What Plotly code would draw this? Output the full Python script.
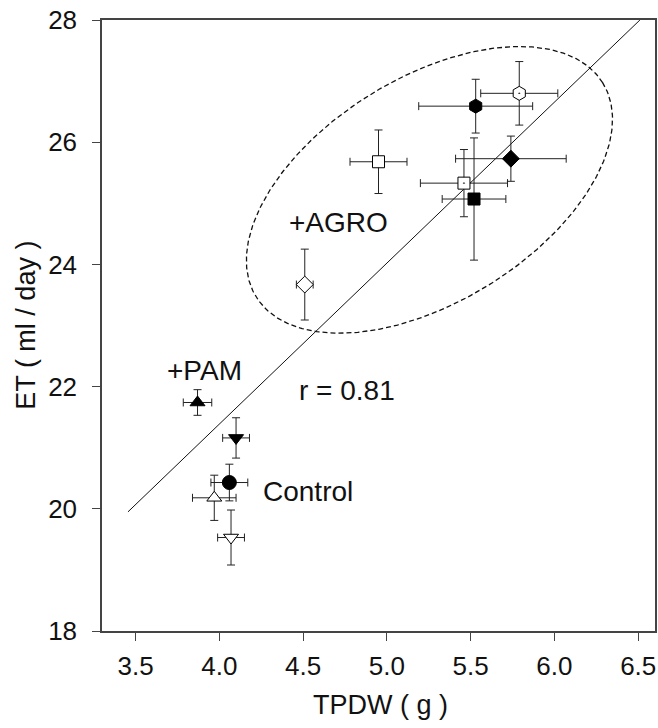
import numpy as np
import plotly.graph_objects as go

# ---- data ----
tpdw = [5.79, 5.53, 5.74, 5.46, 5.52, 4.95, 4.51, 4.10, 3.87, 4.06, 3.97, 4.07]
tpdw_err = [0.23, 0.34, 0.33, 0.26, 0.19, 0.17, 0.05, 0.08, 0.085, 0.11, 0.13, 0.08]
et = [26.80, 26.59, 25.73, 25.33, 25.07, 25.68, 23.67, 21.16, 21.74, 20.43, 20.18, 19.53]
et_err = [0.52, 0.44, 0.37, 0.55, 1.00, 0.52, 0.58, 0.33, 0.21, 0.30, 0.37, 0.45]
symbols = ["hexagon-dot", "hexagon", "diamond", "square-dot", "square", "square",
           "diamond", "triangle-down", "triangle-up", "circle", "triangle-up", "triangle-down"]
filled = [False, True, True, False, True, False, False, True, True, True, False, False]
sizes = [14, 14, 13, 12, 12, 12, 13, 13, 13, 14, 13, 13]

# regression line
fit_slope = 2.635
fit_x0, fit_y0 = 3.455, 19.95
fit_x_end = 6.51

x_ticks = [3.5, 4.0, 4.5, 5.0, 5.5, 6.0, 6.5]
y_ticks = [18, 20, 22, 24, 26, 28]

labels = ["+AGRO", "r = 0.81", "+PAM", "Control"]
label_x = [4.71, 4.76, 3.91, 4.53]
label_y = [24.68, 21.93, 22.27, 20.29]

x_title = "TPDW ( g )"
y_title = "ET ( ml / day )"

# dashed ellipse (centre in data units, axes in screen pixels)
ell_cx, ell_cy = 5.254, 25.22
ell_a, ell_b, ell_theta = 203, 112, np.deg2rad(31.9)
px_per_x, px_per_y = 166.8, 61.1

INK = "#000000"
FONT = "Liberation Sans, Arial, Helvetica, sans-serif"

fig = go.Figure()

# regression line
fx = np.array([fit_x0, fit_x_end])
fy = fit_y0 + fit_slope * (fx - fit_x0)
fig.add_trace(go.Scatter(x=fx, y=fy, mode="lines",
                         line=dict(color="#111", width=1), hoverinfo="skip"))

# ellipse
t = np.linspace(0, 2 * np.pi, 361)
u = ell_a * np.cos(t) * np.cos(ell_theta) - ell_b * np.sin(t) * np.sin(ell_theta)
v = ell_a * np.cos(t) * np.sin(ell_theta) + ell_b * np.sin(t) * np.cos(ell_theta)
fig.add_trace(go.Scatter(x=ell_cx + u / px_per_x, y=ell_cy + v / px_per_y, mode="lines",
                         line=dict(color="#111", width=1.3, dash="5px,3px"), hoverinfo="skip"))

# points
fig.add_trace(go.Scatter(
    x=tpdw, y=et, mode="markers",
    error_x=dict(type="data", array=tpdw_err, color="#222", thickness=1, width=4),
    error_y=dict(type="data", array=et_err, color="#222", thickness=1, width=4),
    marker=dict(symbol=symbols, size=sizes, opacity=1,
                color=[INK if f else "white" for f in filled],
                line=dict(color=INK, width=1)),
))

for txt, lx, ly in zip(labels, label_x, label_y):
    fig.add_annotation(x=lx, y=ly, text=txt, showarrow=False,
                       font=dict(family=FONT, size=28, color="#111"))

# axis titles as annotations (paper coords)
fig.add_annotation(xref="paper", yref="paper", x=0.503, y=-0.121, text=x_title,
                   showarrow=False, xanchor="center", yanchor="middle",
                   font=dict(family=FONT, size=27, color="#111"))
fig.add_annotation(xref="paper", yref="paper", x=-0.139, y=0.5, text=y_title,
                   showarrow=False, xanchor="center", yanchor="middle", textangle=-90,
                   font=dict(family=FONT, size=27, color="#111"))

axis_common = dict(showline=True, linecolor="#444", linewidth=1.5, mirror=True,
                   ticks="outside", ticklen=8, tickcolor="#444", tickwidth=1.2,
                   showgrid=False, zeroline=False, automargin=False,
                   tickfont=dict(family=FONT, size=26, color="#111"))

fig.update_xaxes(range=[3.3, 6.6], tickvals=x_ticks,
                 ticktext=[f"{v:.1f}" for v in x_ticks],
                 ticklabelstandoff=3, **axis_common)
fig.update_yaxes(range=[18, 28], tickvals=y_ticks,
                 ticklabelstandoff=10, **axis_common)

fig.update_layout(width=658, height=728, showlegend=False,
                  margin=dict(l=102, r=3, t=20, b=97, autoexpand=False),
                  plot_bgcolor="white", paper_bgcolor="white")

fig.write_html("out.html",
               config={"displayModeBar": False},
               post_script="document.body.style.margin='0';document.body.style.padding='0';"
                           "document.body.style.overflow='hidden';")
